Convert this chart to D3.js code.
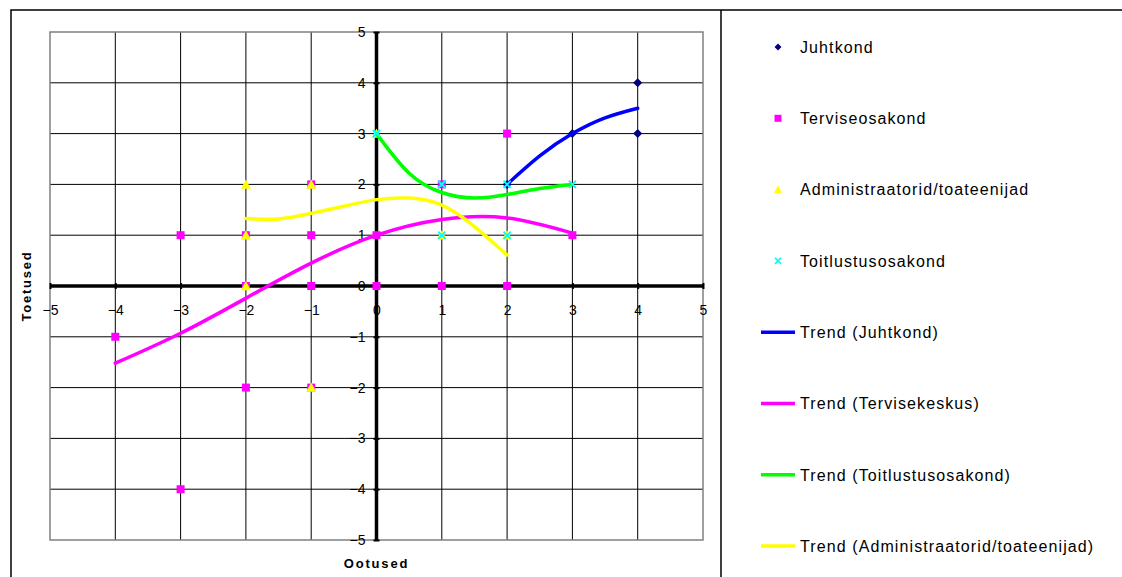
<!DOCTYPE html>
<html>
<head>
<meta charset="utf-8">
<script src="https://cdn.jsdelivr.net/npm/d3@7"></script>
<style>
  html, body { margin: 0; padding: 0; background: #fff; }
  svg { display: block; font-family: "Liberation Sans", Arial, sans-serif; }
</style>
</head>
<body>
<svg id="chart" width="1122" height="577"></svg>
<script>
// Tick labels for both axes
const xTickValues = [-5, -4, -3, -2, -1, 0, 1, 2, 3, 4, 5];
const yTickValues = [-5, -4, -3, -2, -1, 0, 1, 2, 3, 4, 5];

// Survey answers: [ootused, toetused]
const juhtkond = [[2, 2], [3, 3], [4, 3], [4, 4]];
const terviseosakond = [[-4, -1], [-3, 1], [-3, -4], [-2, 1], [-2, 0], [-2, -2],
  [-1, 2], [-1, 1], [-1, 0], [-1, -2], [0, 1], [0, 0], [1, 2], [1, 0], [2, 3], [2, 0], [3, 1]];
const administraatorid = [[-2, 2], [-2, 1], [-2, 0], [-1, 2], [-1, -2], [0, 3], [1, 1], [2, 1]];
const toitlustusosakond = [[0, 3], [1, 2], [1, 1], [2, 2], [2, 1], [3, 2]];

// Polynomial trend curves, sampled along x
const trendJuhtkondX = [2, 2.5, 3, 3.5, 4];
const trendJuhtkondY = [2.0, 2.56, 3.0, 3.31, 3.5];
const trendTervisekeskusX = [-4, -3, -2, -1, 0, 1, 2, 3];
const trendTervisekeskusY = [-1.52, -0.93, -0.24, 0.45, 1.0, 1.31, 1.34, 1.04];
const trendToitlustusX = [0, 0.5, 1, 1.5, 2, 2.5, 3];
const trendToitlustusY = [3.0, 2.22, 1.84, 1.73, 1.8, 1.92, 2.0];
const trendAdminX = [-2, -1.5, -1, -0.5, 0, 0.5, 1, 1.5, 2];
const trendAdminY = [1.33, 1.32, 1.43, 1.57, 1.70, 1.73, 1.59, 1.17, 0.61];

const svg = d3.select("#chart");

const x = d3.scaleLinear().domain([-5, 5]).range([50, 703]);
const y = d3.scaleLinear().domain([-5, 5]).range([540, 32]);

// Outer chart frame and legend frame
svg.append("path")
  .attr("d", "M11,577 L11,10 L1122,10")
  .attr("fill", "none").attr("stroke", "#000").attr("stroke-width", 1.5);
svg.append("line")
  .attr("x1", 721).attr("x2", 721).attr("y1", 10).attr("y2", 577)
  .attr("stroke", "#000").attr("stroke-width", 1.5);

// Gridlines
const grid = svg.append("g");
grid.selectAll("line.v").data(xTickValues.filter(v => v > -5 && v < 5)).join("line")
  .attr("x1", d => x(d)).attr("x2", d => x(d))
  .attr("y1", y(5)).attr("y2", y(-5))
  .attr("stroke", "#000").attr("stroke-width", 1);
grid.selectAll("line.h").data(yTickValues.filter(v => v > -5 && v < 5)).join("line")
  .attr("y1", d => y(d)).attr("y2", d => y(d))
  .attr("x1", x(-5)).attr("x2", x(5))
  .attr("stroke", "#000").attr("stroke-width", 1);
grid.append("rect")
  .attr("x", x(-5)).attr("y", y(5))
  .attr("width", x(5) - x(-5)).attr("height", y(-5) - y(5))
  .attr("fill", "none").attr("stroke", "#808080").attr("stroke-width", 1.5);

// X axis labels (drawn under the y axis line)
const xAxis = svg.append("g")
  .attr("transform", `translate(0,${y(0)})`)
  .call(d3.axisBottom(x).tickValues(xTickValues).tickFormat(d3.format("d"))
    .tickSizeInner(3).tickSizeOuter(0).tickPadding(16));
xAxis.select(".domain").remove();
xAxis.selectAll(".tick line").attr("stroke", "#000").attr("stroke-width", 2).attr("y1", -3);
xAxis.selectAll(".tick text")
  .attr("font-size", 14).attr("fill", "#000").attr("font-family", "Liberation Sans, Arial, sans-serif");

// Y axis
const yAxis = svg.append("g")
  .attr("transform", `translate(${x(0)},0)`)
  .call(d3.axisLeft(y).tickValues(yTickValues).tickFormat(d3.format("d"))
    .tickSizeInner(3).tickSizeOuter(0).tickPadding(8));
yAxis.select(".domain").remove();
yAxis.selectAll(".tick line").attr("stroke", "#000").attr("stroke-width", 2).attr("x1", 3);
yAxis.selectAll(".tick text")
  .attr("font-size", 14).attr("fill", "#000").attr("font-family", "Liberation Sans, Arial, sans-serif");

// Zero axis lines
svg.append("line")
  .attr("x1", x(-5)).attr("x2", x(5)).attr("y1", y(0)).attr("y2", y(0))
  .attr("stroke", "#000").attr("stroke-width", 3.5);
svg.append("line")
  .attr("x1", x(0)).attr("x2", x(0)).attr("y1", y(5)).attr("y2", y(-5))
  .attr("stroke", "#000").attr("stroke-width", 3.5);

// Axis titles
svg.append("text")
  .attr("x", x(0)).attr("y", 568)
  .attr("text-anchor", "middle")
  .attr("font-size", 13).attr("font-weight", "bold").attr("letter-spacing", 1.8)
  .text("Ootused");
svg.append("text")
  .attr("transform", `translate(31,${y(0)}) rotate(-90)`)
  .attr("text-anchor", "middle")
  .attr("font-size", 13).attr("font-weight", "bold").attr("letter-spacing", 1.8)
  .text("Toetused");

// Marker shapes
const shapes = {
  diamond: r => `M0,${-r}L${r},0L0,${r}L${-r},0Z`,
  square: r => `M${-r},${-r}H${r}V${r}H${-r}Z`,
  triangle: r => `M0,${-r}L${r},${r * 0.85}L${-r},${r * 0.85}Z`,
  cross: r => `M${-r},${-r}L${r},${r}M${r},${-r}L${-r},${r}`
};

const series = [
  { name: "Juhtkond", data: juhtkond, shape: "diamond", r: 4.5, lr: 3.5, color: "#000080" },
  { name: "Terviseosakond", data: terviseosakond, shape: "square", r: 4, lr: 3.5, color: "#FF00FF" },
  { name: "Administraatorid/toateenijad", data: administraatorid, shape: "triangle", r: 5, lr: 4, color: "#FFFF00" },
  { name: "Toitlustusosakond", data: toitlustusosakond, shape: "cross", r: 3.5, lr: 3, color: "#00FFFF" }
];

const trends = [
  { name: "Trend (Juhtkond)", xs: trendJuhtkondX, ys: trendJuhtkondY, color: "#0000FF" },
  { name: "Trend (Tervisekeskus)", xs: trendTervisekeskusX, ys: trendTervisekeskusY, color: "#FF00FF" },
  { name: "Trend (Toitlustusosakond)", xs: trendToitlustusX, ys: trendToitlustusY, color: "#00FF00" },
  { name: "Trend (Administraatorid/toateenijad)", xs: trendAdminX, ys: trendAdminY, color: "#FFFF00" }
];

function drawMarker(sel, s, r) {
  const p = sel.append("path").attr("d", shapes[s.shape](r));
  if (s.shape === "cross") {
    p.attr("fill", "none").attr("stroke", s.color).attr("stroke-width", 1.6);
  } else {
    p.attr("fill", s.color);
  }
  return p;
}

// Markers
series.forEach(s => {
  const g = svg.append("g");
  s.data.forEach(d => {
    const m = g.append("g").attr("transform", `translate(${x(d[0])},${y(d[1])})`);
    drawMarker(m, s, s.r);
  });
});

// Trend lines
const line = d3.line().x(d => x(d[0])).y(d => y(d[1])).curve(d3.curveNatural);
trends.forEach(t => {
  svg.append("path")
    .datum(t.xs.map((v, i) => [v, t.ys[i]]))
    .attr("d", line)
    .attr("fill", "none").attr("stroke", t.color)
    .attr("stroke-width", 3.5).attr("stroke-linecap", "round").attr("stroke-linejoin", "round");
});

// Cyan crosses stay visible above the trend lines
(() => {
  const s = series[3];
  s.data.forEach(d => {
    const m = svg.append("g").attr("transform", `translate(${x(d[0])},${y(d[1])})`);
    drawMarker(m, s, s.r);
  });
})();

// Legend
const legendTop = 47, legendStep = 71.3;
const legend = svg.append("g");
series.forEach((s, i) => {
  const cy = legendTop + i * legendStep;
  const m = legend.append("g").attr("transform", `translate(778,${cy})`);
  drawMarker(m, s, s.lr);
  legend.append("text").attr("x", 800).attr("y", cy).attr("dy", "0.36em")
    .attr("font-size", 16).attr("letter-spacing", 1.1).attr("fill", "#000").text(s.name);
});
trends.forEach((t, i) => {
  const cy = legendTop + (i + 4) * legendStep;
  legend.append("line").attr("x1", 761).attr("x2", 795).attr("y1", cy).attr("y2", cy)
    .attr("stroke", t.color).attr("stroke-width", 3.5);
  legend.append("text").attr("x", 800).attr("y", cy).attr("dy", "0.36em")
    .attr("font-size", 16).attr("letter-spacing", 1.1).attr("fill", "#000").text(t.name);
});
</script>
</body>
</html>
